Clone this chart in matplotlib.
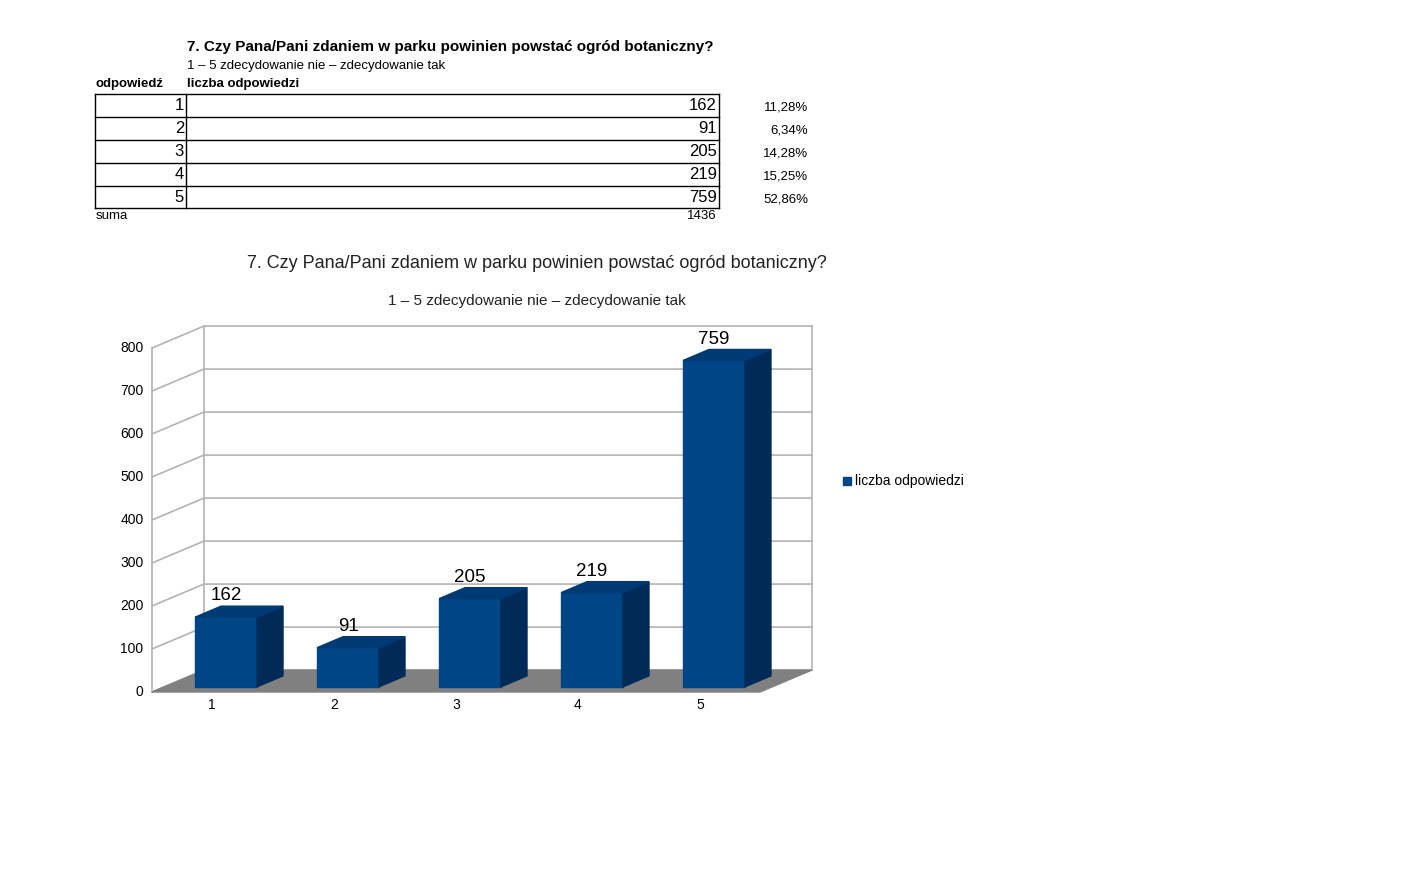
import matplotlib.pyplot as plt
from matplotlib.patches import Polygon, Rectangle

answers = ["1", "2", "3", "4", "5"]
counts = [162, 91, 205, 219, 759]
percents = ["11,28%", "6,34%", "14,28%", "15,25%", "52,86%"]
total = 1436
yticks = [0, 100, 200, 300, 400, 500, 600, 700, 800]

title = "7. Czy Pana/Pani zdaniem w parku powinien powstać ogród botaniczny?"
subtitle = "1 – 5 zdecydowanie nie – zdecydowanie tak"

W, H = 1403, 877
fig = plt.figure(figsize=(W / 100, H / 100), dpi=100)
fig.patch.set_facecolor("white")
plt.rcParams["font.family"] = ["Liberation Sans", "DejaVu Sans"]


def px(x, y):
    return x / W, 1 - y / H


# ---- table at the top
fig.text(*px(187, 47), title, fontsize=11, fontweight="bold", va="center")
fig.text(*px(187, 66), subtitle, fontsize=9.5, va="center")
fig.text(*px(96, 84), "odpowiedź", fontsize=9.5, fontweight="bold", va="center")
fig.text(*px(187, 84), "liczba odpowiedzi", fontsize=9.5, fontweight="bold", va="center")
rows_y = [94, 117, 140, 163, 186, 208]
tab = fig.add_axes([0, 0, 1, 1], zorder=-1)
tab.set_xlim(0, W)
tab.set_ylim(H, 0)
tab.axis("off")
for y in rows_y:
    tab.plot([95, 719], [y, y], color="black", lw=1)
for x in [95, 186, 719]:
    tab.plot([x, x], [rows_y[0], rows_y[-1]], color="black", lw=1)
for i, (a, c, p) in enumerate(zip(answers, counts, percents)):
    yc = (rows_y[i] + rows_y[i + 1]) / 2
    fig.text(*px(184, yc), a, fontsize=12, ha="right", va="center")
    fig.text(*px(717, yc), str(c), fontsize=12, ha="right", va="center")
    fig.text(*px(808, yc + 2), p, fontsize=9.5, ha="right", va="center")
fig.text(*px(96, 216), "suma", fontsize=9.5, va="center")
fig.text(*px(717, 216), str(total), fontsize=9.5, ha="right", va="center")

# ---- chart
fig.text(*px(537, 263), title, fontsize=13, ha="center", va="center", color="#222222")
fig.text(*px(537, 301), subtitle, fontsize=11, ha="center", va="center", color="#222222")

ax = fig.add_axes([152 / W, 1 - 692 / H, (760 - 152) / W, (692 - 348) / H])
ax.set_xlim(0.393, 5.377)
ax.set_ylim(0, 800)
ax.axis("off")
x0, x1 = 0.393, 5.377
wdx, wdy = 0.426, 51   # back wall offset
bdx, bdy = 0.213, 25.6  # bar depth
grid = "#b3b3b3"

# floor
ax.add_patch(Polygon([(x0, 0), (x1, 0), (x1 + wdx, wdy), (x0 + wdx, wdy)],
                     closed=True, color="#808080", clip_on=False, zorder=1))
# walls and gridlines
for v in yticks:
    ax.plot([x0, x0 + wdx, x1 + wdx], [v, v + wdy, v + wdy], color=grid, lw=1.2,
            clip_on=False, zorder=0)
    ax.text(x0 - 0.07, v, str(v), ha="right", va="center", fontsize=10)
ax.plot([x0 + wdx, x0 + wdx], [wdy, 800 + wdy], color=grid, lw=1.2, clip_on=False, zorder=0)
ax.plot([x1 + wdx, x1 + wdx], [wdy, 800 + wdy], color=grid, lw=1.2, clip_on=False, zorder=0)
ax.plot([x0, x0], [0, 800], color=grid, lw=1.2, clip_on=False, zorder=0)

# bars
bw = 0.508
base = 12
for i, c in enumerate(counts):
    xc = i + 1
    l, r = xc - bw / 2, xc + bw / 2
    top = base + c
    ax.add_patch(Rectangle((l, base), bw, c, color="#004586", clip_on=False, zorder=3))
    ax.add_patch(Polygon([(r, base), (r + bdx, base + bdy), (r + bdx, top + bdy), (r, top)],
                         closed=True, color="#002a58", clip_on=False, zorder=3))
    ax.add_patch(Polygon([(l, top), (r, top), (r + bdx, top + bdy), (l + bdx, top + bdy)],
                         closed=True, color="#003a75", clip_on=False, zorder=3))
    ax.text(xc, top + bdy + 4, str(c), ha="center", va="bottom", fontsize=13.5, zorder=4)
    ax.text(xc - 0.115, -30, answers[i], ha="center", va="center", fontsize=10)

# legend
fig.patches.append(Rectangle(px(843, 485), 8 / W, 8 / H, transform=fig.transFigure,
                             color="#004586", figure=fig))
fig.text(*px(855, 481), "liczba odpowiedzi", fontsize=10, va="center")

fig.savefig("out.png", dpi=100)
